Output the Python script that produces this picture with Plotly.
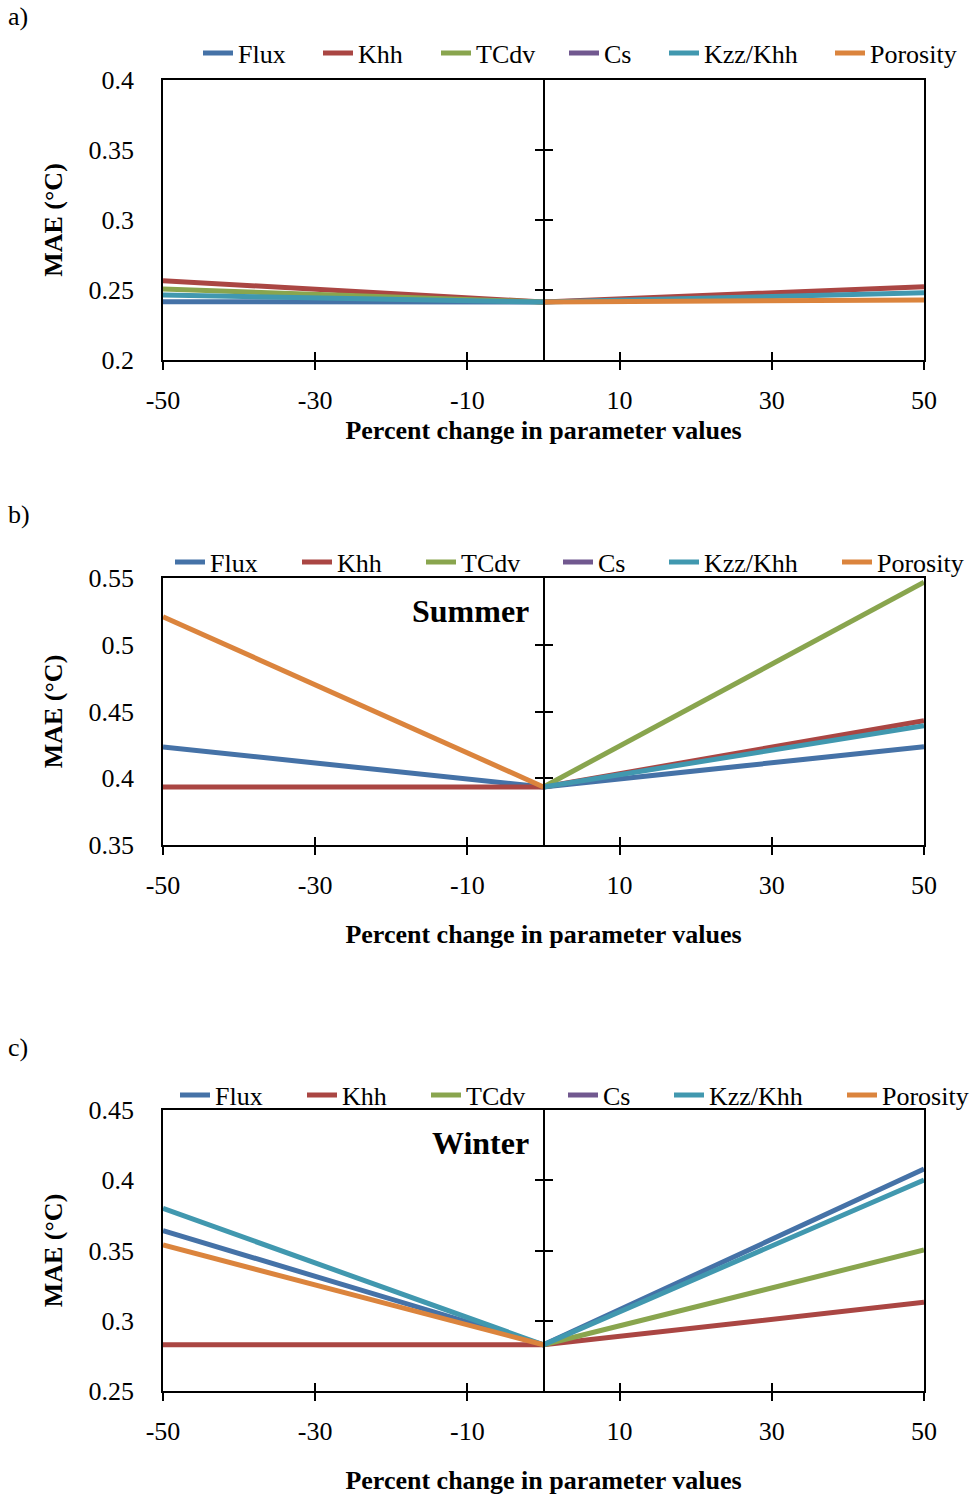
import plotly.graph_objects as go

# ---------------- data ----------------
x_pct = [-50, 0, 50]
series_names = ["Flux", "Khh", "TCdv", "Cs", "Kzz/Khh", "Porosity"]
series_colors = ["#4572A7", "#AA4643", "#89A54E", "#71588F", "#4198AF", "#DB843D"]

# Panel a (None = segment not visible in the source picture)
a_flux = [0.2416, 0.2414, None]
a_khh = [0.2566, 0.2414, 0.2524]
a_tcdv = [0.2507, 0.2414, None]
a_cs = [None, None, None]
a_kzz = [0.2464, 0.2414, 0.2480]
a_por = [None, 0.2414, 0.2429]

# Panel b (Summer)
b_flux = [0.4234, 0.3935, 0.4236]
b_khh = [0.3934, 0.3935, 0.4431]
b_tcdv = [None, 0.3935, 0.5468]
b_cs = [None, None, None]
b_kzz = [None, 0.3935, 0.4394]
b_por = [0.5210, 0.3935, None]

# Panel c (Winter)
c_flux = [0.3641, 0.2829, 0.4080]
c_khh = [0.2829, 0.2829, 0.3131]
c_tcdv = [None, 0.2829, 0.3504]
c_cs = [None, None, None]
c_kzz = [0.3800, 0.2829, 0.4002]
c_por = [0.3539, 0.2829, None]

x_tickvals = [-50, -30, -10, 10, 30, 50]
x_ticktext = ["-50", "-30", "-10", "10", "30", "50"]

a_yticks = [0.2, 0.25, 0.3, 0.35, 0.4]
a_ytext = ["0.2", "0.25", "0.3", "0.35", "0.4"]
b_yticks = [0.35, 0.4, 0.45, 0.5, 0.55]
b_ytext = ["0.35", "0.4", "0.45", "0.5", "0.55"]
c_yticks = [0.25, 0.3, 0.35, 0.4, 0.45]
c_ytext = ["0.25", "0.3", "0.35", "0.4", "0.45"]

panel_labels = ["a)", "b)", "c)"]
season_labels = [None, "Summer", "Winter"]
x_title = "Percent change in parameter values"
y_title = "MAE (°C)"

# ---------------- figure ----------------
FONT = "Liberation Serif"
FS = 26
W, H = 974, 1500
px_x0, px_x1 = 163, 924
xdom = [px_x0 / W, px_x1 / W]
xmid = (xdom[0] + xdom[1]) / 2
panels_px = [(80, 360), (578, 845), (1110, 1391)]
legend_px = [53, 562, 1095]
# left edge (px) of each legend entry's text, per panel
legend_text_px = [
    [238, 358, 476, 604, 704, 870],
    [210, 337, 461, 598, 704, 877],
    [215, 342, 466, 603, 709, 882],
]
title_standoff = [7, 26, 26]

panel_data = [
    [a_flux, a_khh, a_tcdv, a_cs, a_kzz, a_por],
    [b_flux, b_khh, b_tcdv, b_cs, b_kzz, b_por],
    [c_flux, c_khh, c_tcdv, c_cs, c_kzz, c_por],
]
panel_yticks = [(a_yticks, a_ytext), (b_yticks, b_ytext), (c_yticks, c_ytext)]

fig = go.Figure()
layout = dict(
    width=W, height=H,
    margin=dict(l=0, r=0, t=0, b=0, autoexpand=False),
    paper_bgcolor="white", plot_bgcolor="white",
    font=dict(family=FONT, size=FS, color="black"),
    showlegend=True,
    annotations=[],
)

for i in range(3):
    n = i + 1
    xs = "" if n == 1 else str(n)
    ys = "" if n == 1 else str(n)
    top, bot = panels_px[i]
    ydom = [1 - bot / H, 1 - top / H]
    yt, ytt = panel_yticks[i]
    yr = [yt[0], yt[-1]]

    # empty helper traces so that the overlay axes (crossing ticks, centre axis) are drawn
    for ax_x, ax_y in [(f"x{n + 3}", f"y{ys}"), (f"x{xs}", f"y{n + 3}"), (f"x{xs}", f"y{n + 6}")]:
        fig.add_trace(go.Scatter(x=[None], y=[None], mode="lines", showlegend=False,
                                 xaxis=ax_x, yaxis=ax_y, hoverinfo="skip"))

    for k, name in enumerate(series_names):
        li = i * 6 + k + 1
        leg = "legend" if li == 1 else f"legend{li}"
        fig.add_trace(go.Scatter(
            x=x_pct, y=panel_data[i][k], mode="lines", name=name,
            line=dict(color=series_colors[k], width=5),
            xaxis=f"x{xs}", yaxis=f"y{ys}", legend=leg,
            connectgaps=False, hoverinfo="skip",
        ))
        layout[leg] = dict(
            orientation="h", x=(legend_text_px[i][k] - 40) / W, xanchor="left",
            y=1 - legend_px[i] / H, yanchor="middle",
            font=dict(size=FS, family=FONT), bgcolor="rgba(0,0,0,0)",
            itemwidth=30,
        )

    layout[f"xaxis{xs}"] = dict(
        domain=xdom, anchor=f"y{ys}", range=[-50, 50], automargin=False,
        tickvals=x_tickvals, ticktext=x_ticktext,
        ticks="outside", ticklen=8, tickwidth=1.5, tickcolor="black",
        showline=True, linecolor="black", linewidth=1.5, mirror=True,
        showgrid=False, zeroline=False,
        tickfont=dict(size=FS, family=FONT), ticklabelstandoff=8,
        title=dict(text=f"<b>{x_title}</b>", font=dict(size=FS, family=FONT), standoff=title_standoff[i]),
    )
    layout[f"yaxis{ys}"] = dict(
        domain=ydom, anchor=f"x{xs}", range=yr, automargin=False,
        tickvals=yt, ticktext=ytt, ticks="",
        showline=True, linecolor="black", linewidth=1.5, mirror=True,
        showgrid=False, zeroline=False,
        tickfont=dict(size=FS, family=FONT), ticklabelstandoff=22,
        title=dict(text=f"<b>{y_title}</b>", font=dict(size=FS, family=FONT), standoff=18),
    )
    # inner half of the crossing x ticks
    layout[f"xaxis{n + 3}"] = dict(
        overlaying=f"x{xs}", anchor=f"y{ys}", range=[-50, 50], automargin=False,
        tickvals=x_tickvals, ticks="inside", ticklen=8, tickwidth=1.5, tickcolor="black",
        showticklabels=False, showline=False, showgrid=False, zeroline=False,
    )
    # central vertical axis at x = 0 with crossing ticks
    inner = yt[1:-1]
    layout[f"yaxis{n + 3}"] = dict(
        overlaying=f"y{ys}", anchor="free", position=xmid, side="left", range=yr,
        automargin=False,
        tickvals=inner, ticks="outside", ticklen=8, tickwidth=1.5, tickcolor="black",
        showticklabels=False, showline=True, linecolor="black", linewidth=1.5,
        showgrid=False, zeroline=False,
    )
    layout[f"yaxis{n + 6}"] = dict(
        overlaying=f"y{ys}", anchor="free", position=xmid, side="left", range=yr,
        automargin=False,
        tickvals=inner, ticks="inside", ticklen=8, tickwidth=1.5, tickcolor="black",
        showticklabels=False, showline=False, showgrid=False, zeroline=False,
    )

    layout["annotations"].append(dict(
        text=panel_labels[i], xref="paper", yref="paper",
        x=6 / W, y=1 - (top - 63) / H, xanchor="left", yanchor="middle",
        showarrow=False, font=dict(size=FS, family=FONT),
    ))
    if season_labels[i]:
        layout["annotations"].append(dict(
            text=f"<b>{season_labels[i]}</b>", xref="paper", yref="paper",
            x=531 / W, y=1 - (top + 33) / H, xanchor="right", yanchor="middle",
            showarrow=False, font=dict(size=32, family=FONT),
        ))

fig.update_layout(**layout)
fig.write_html("out.html")
